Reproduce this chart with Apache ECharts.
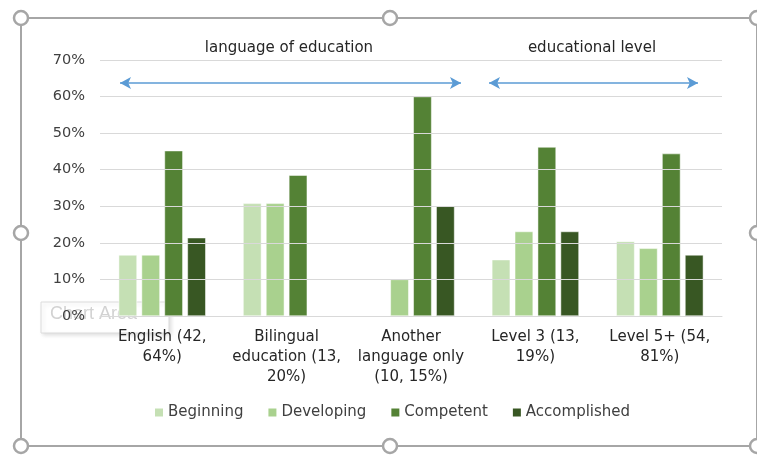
<!DOCTYPE html>
<html><head><meta charset="utf-8">
<script src="https://cdn.jsdelivr.net/npm/echarts@6/dist/echarts.min.js"></script>
<style>html,body{margin:0;padding:0;background:#fff;}#c{width:757px;height:457px;}</style>
</head><body><div id="c"></div>
<script>
const categories = ['English (42,\n64%)', 'Bilingual\neducation (13,\n20%)', 'Another\nlanguage only\n(10, 15%)', 'Level 3 (13,\n19%)', 'Level 5+ (54,\n81%)'];
const seriesNames = ['Beginning', 'Developing', 'Competent', 'Accomplished'];
const beginning = [16.7, 30.8, 0, 15.4, 20.4];
const developing = [16.7, 30.8, 10, 23.1, 18.5];
const competent = [45.2, 38.5, 60, 46.2, 44.4];
const accomplished = [21.4, 0, 30, 23.1, 16.7];
const yTicks = [0, 10, 20, 30, 40, 50, 60, 70];
const groupLabels = ['language of education', 'educational level'];

const colors = ['#c5e0b4', '#a9d18e', '#548235', '#385723'];
const FONT = 'DejaVu Sans';
const values = [beginning, developing, competent, accomplished];
const frameColor = '#a6a6a6';

const chart = echarts.init(document.getElementById('c'));
const handles = [[21,18],[390,18],[757,18],[21,233],[757,233],[21,446],[390,446],[757,446]];
const graphic = [
  {type:'rect', z:-10, shape:{x:21,y:18,width:736,height:428}, style:{fill:'none', stroke:frameColor, lineWidth:2}},
  {type:'rect', z:0, shape:{x:41,y:302,width:128,height:31}, style:{fill:'#fff', stroke:'#dcdcdc', lineWidth:1, shadowBlur:4, shadowColor:'rgba(0,0,0,0.12)', shadowOffsetX:2, shadowOffsetY:2}},
  {type:'text', z:0, left:50, top:305, style:{text:'Chart Area', fill:'#d2d2d2', font:'18px "Liberation Sans"'}},
  {type:'text', z:5, x:289, y:48, style:{text:groupLabels[0], fill:'#262626', font:'15px "'+FONT+'"', textAlign:'center', textVerticalAlign:'middle'}},
  {type:'text', z:5, x:592, y:48, style:{text:groupLabels[1], fill:'#262626', font:'15px "'+FONT+'"', textAlign:'center', textVerticalAlign:'middle'}}
];
handles.forEach(h => graphic.push({type:'circle', z:20, shape:{cx:h[0], cy:h[1], r:7}, style:{fill:'#fff', stroke:frameColor, lineWidth:2.5}}));

const series = seriesNames.map((n, i) => ({
  name: n, type: 'bar', data: values[i], z: 3,
  barGap: '25%', barCategoryGap: '30%',
  itemStyle: {color: colors[i], borderColor: '#fff', borderWidth: 0.5},
  emphasis: {disabled: true}
}));
series[0].markLine = {
  silent: true, symbol: ['arrow', 'arrow'], symbolSize: [9, 11],
  lineStyle: {color: '#5b9bd5', width: 1.5, type: 'solid'},
  label: {show: false},
  data: [
    [{x: 120, y: 83}, {x: 461, y: 83}],
    [{x: 489, y: 83}, {x: 698, y: 83}]
  ]
};

chart.setOption({
  animation: false,
  textStyle: {fontFamily: FONT},
  grid: {left: 100, right: 35, top: 60, bottom: 141},
  xAxis: {
    type: 'category', data: categories,
    axisLine: {lineStyle: {color: '#d9d9d9'}}, axisTick: {show: false},
    axisLabel: {color: '#262626', fontSize: 15, fontFamily: FONT, lineHeight: 20, margin: 11, interval: 0}
  },
  yAxis: {
    type: 'value', min: yTicks[0], max: yTicks[yTicks.length-1], interval: 10, z: 5,
    axisLine: {show: false}, axisTick: {show: false},
    splitLine: {lineStyle: {color: '#d9d9d9'}},
    axisLabel: {color: '#404040', fontSize: 14.5, fontFamily: FONT, margin: 15, formatter: '{value}%'}
  },
  legend: {
    data: seriesNames, top: 400, left: 148,
    itemWidth: 10, itemHeight: 10, itemGap: 23, icon: 'rect',
    textStyle: {color: '#404040', fontSize: 15, fontFamily: FONT, padding: [0,0,0,-1]}
  },
  graphic: graphic,
  series: series
});
</script></body></html>
